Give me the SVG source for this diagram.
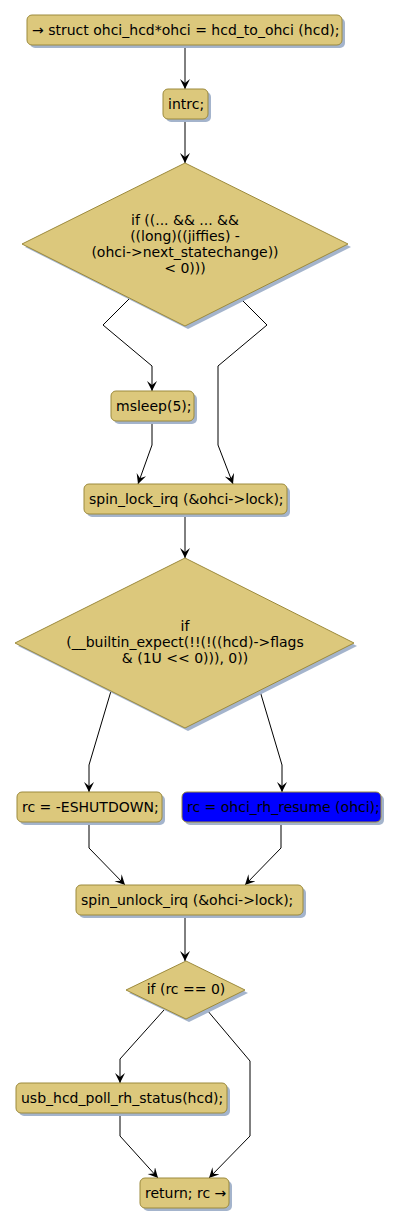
<svg xmlns="http://www.w3.org/2000/svg" width="400" height="1226" viewBox="0 0 400 1226">
<style>
.n{fill:#DCC87C;stroke:#9C8A3C;stroke-width:1}
.b{fill:#0000FF;stroke:#9C8A3C;stroke-width:1}
.s{fill:#A4B4CC}
.t{font-family:"DejaVu Sans",sans-serif;font-size:14px;fill:#000}
.m{text-anchor:middle}
.c{fill:none;stroke:#000;stroke-width:1}
</style>
<defs>
<marker id="a" markerUnits="userSpaceOnUse" markerWidth="12" markerHeight="12" refX="10" refY="5" orient="auto">
<path d="M0,0 L10,5 L0,10 L4,5 Z" fill="#000"/>
</marker>
</defs>
<g id="connectors">
<path class="c" d="M185,45 V89" marker-end="url(#a)"/>
<path class="c" d="M185,119 V163" marker-end="url(#a)"/>
<path class="c" d="M130,298 L103,325 L152,366 V391" marker-end="url(#a)"/>
<path class="c" d="M240,298 L267,325 L218,366 V445 L233,484" marker-end="url(#a)"/>
<path class="c" d="M152,421 V445 L138,484" marker-end="url(#a)"/>
<path class="c" d="M185,514 V558" marker-end="url(#a)"/>
<path class="c" d="M111,691 L89,765 V792" marker-end="url(#a)"/>
<path class="c" d="M260,691 L282,765 V792" marker-end="url(#a)"/>
<path class="c" d="M89,823 V848 L125,885" marker-end="url(#a)"/>
<path class="c" d="M281,823 V848 L245,885" marker-end="url(#a)"/>
<path class="c" d="M185,915 V961" marker-end="url(#a)"/>
<path class="c" d="M164,1010 L120,1059 V1083" marker-end="url(#a)"/>
<path class="c" d="M207,1010 L250,1061 V1136 L209,1178" marker-end="url(#a)"/>
<path class="c" d="M120,1113 V1136 L158,1178" marker-end="url(#a)"/>
</g>
<g id="n1">
<rect class="s" x="30" y="18" width="315" height="30" rx="5"/>
<rect class="n" x="27" y="15" width="315" height="30" rx="5"/>
<text class="t" x="32" y="35">→ struct ohci_hcd*ohci = hcd_to_ohci (hcd);</text>
</g>
<g id="n2">
<rect class="s" x="166" y="92" width="45" height="30" rx="5"/>
<rect class="n" x="163" y="89" width="45" height="30" rx="5"/>
<text class="t" x="168" y="109">intrc;</text>
</g>
<g id="d1">
<polygon class="s" points="188,166 351,247 188,329 25,247"/>
<polygon class="n" points="185,163 348,244 185,326 22,244"/>
<text class="t m" x="185" y="225">if ((... &amp;&amp; ... &amp;&amp;</text>
<text class="t m" x="185" y="241">((long)((jiffies) -</text>
<text class="t m" x="185" y="257">(ohci-&gt;next_statechange))</text>
<text class="t m" x="185" y="273">&lt; 0)))</text>
</g>
<g id="n3">
<rect class="s" x="114" y="394" width="83" height="30" rx="5"/>
<rect class="n" x="111" y="391" width="83" height="30" rx="5"/>
<text class="t" x="116" y="411">msleep(5);</text>
</g>
<g id="n4">
<rect class="s" x="87" y="487" width="203" height="30" rx="5"/>
<rect class="n" x="84" y="484" width="203" height="30" rx="5"/>
<text class="t" x="89" y="504">spin_lock_irq (&amp;ohci-&gt;lock);</text>
</g>
<g id="d2">
<polygon class="s" points="188,561 357,646 188,731 18,646"/>
<polygon class="n" points="185,558 354,643 185,728 15,643"/>
<text class="t m" x="185" y="631">if</text>
<text class="t m" x="185" y="647">(__builtin_expect(!!(!((hcd)-&gt;flags</text>
<text class="t m" x="185" y="663">&amp; (1U &lt;&lt; 0))), 0))</text>
</g>
<g id="n5">
<rect class="s" x="20" y="795" width="145" height="30" rx="5"/>
<rect class="n" x="17" y="792" width="145" height="30" rx="5"/>
<text class="t" x="22" y="812">rc = -ESHUTDOWN;</text>
</g>
<g id="n6">
<rect class="s" x="185" y="795" width="199" height="30" rx="5"/>
<rect class="b" x="182" y="792" width="199" height="30" rx="5"/>
<text class="t" x="187" y="812">rc = ohci_rh_resume (ohci);</text>
</g>
<g id="n7">
<rect class="s" x="79" y="888" width="227" height="30" rx="5"/>
<rect class="n" x="76" y="885" width="227" height="30" rx="5"/>
<text class="t" x="81" y="905">spin_unlock_irq (&amp;ohci-&gt;lock);</text>
</g>
<g id="d3">
<polygon class="s" points="189,964 248,993 189,1022 129,993"/>
<polygon class="n" points="186,961 245,990 186,1019 126,990"/>
<text class="t m" x="186" y="994">if (rc == 0)</text>
</g>
<g id="n8">
<rect class="s" x="19" y="1086" width="211" height="30" rx="5"/>
<rect class="n" x="16" y="1083" width="211" height="30" rx="5"/>
<text class="t" x="21" y="1103">usb_hcd_poll_rh_status(hcd);</text>
</g>
<g id="n9">
<rect class="s" x="143" y="1181" width="89" height="30" rx="5"/>
<rect class="n" x="140" y="1178" width="89" height="30" rx="5"/>
<text class="t" x="145" y="1198">return; rc →</text>
</g>
</svg>
